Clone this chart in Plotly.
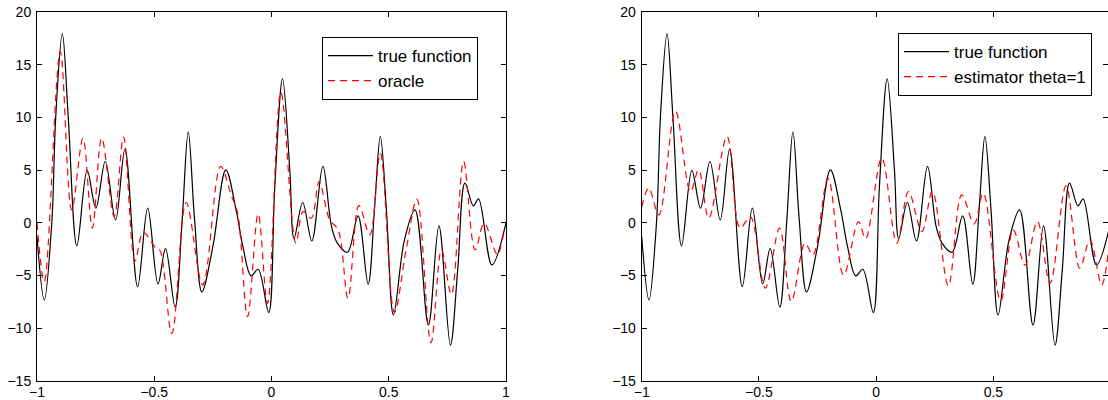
import plotly.graph_objects as go

# ---- data ----
true_x = [-1.0, -0.969, -0.937, -0.920, -0.892, -0.867, -0.830, -0.786, -0.749, -0.709, -0.665, -0.625,
          -0.571, -0.528, -0.484, -0.452, -0.411, -0.381, -0.355, -0.328, -0.297, -0.250, -0.195, -0.151,
          -0.122, -0.087, -0.057, -0.012, 0.014, 0.047, 0.078, 0.096, 0.133, 0.172, 0.219, 0.256, 0.281,
          0.324, 0.369, 0.412, 0.440, 0.464, 0.490, 0.520, 0.567, 0.612, 0.669, 0.714, 0.763, 0.794,
          0.825, 0.861, 0.883, 0.940, 1.0]
true_y = [-1.3, -7.31, 0.0, 10.1, 17.95, 10.1, -2.18, 4.97, 1.39, 5.82, 0.28, 7.0,
          -6.05, 1.39, -5.8, -2.44, -8.0, 0.28, 8.64, 0.28, -6.55, -2.25, 5.03, 1.23,
          -2.25, -5.03, -4.40, -8.5, 3.45, 13.65, 5.03, -1.49, 1.93, -1.71, 5.35, -0.35, -1.93,
          -2.79, 0.66, -5.82, 1.55, 8.2, 1.23, -8.74, -1.61, 1.23, -9.69, -0.28, -11.59, -4.46,
          3.77, 1.61, 2.28, -3.99, 0.0]

oracle_x = [-1.0, -0.969, -0.901, -0.852, -0.804, -0.764, -0.724, -0.671, -0.631, -0.582, -0.547,
            -0.490, -0.476, -0.425, -0.364, -0.293, -0.217, -0.170, -0.145, -0.102, -0.057, -0.017,
            0.040, 0.104, 0.135, 0.170, 0.203, 0.248, 0.284, 0.326, 0.373, 0.419, 0.464, 0.524,
            0.574, 0.620, 0.680, 0.725, 0.767, 0.819, 0.868, 0.907, 0.964, 0.993, 1.0]
oracle_y = [0.0, -5.57, 16.27, 1.23, 8.04, -0.5, 8.04, 0.6, 8.14, -3.6, -0.9,
            -2.5, -2.6, -10.5, 1.93, -5.89, 5.35, 2.5, 1.0, -8.9, 0.85, -7.63,
            12.38, -1.93, 1.07, 0.44, 3.92, 0.28, -0.67, -7.15, 1.65, -1.14, 6.62, -8.5,
            -2.56, 2.25, -11.37, -2.56, -6.8, 5.82, -2.56, -0.03, -3.04, -0.95, -1.2]

est_x = [-1.0, -0.970, -0.927, -0.856, -0.792, -0.757, -0.714, -0.636, -0.580, -0.537, -0.473,
         -0.412, -0.362, -0.303, -0.270, -0.205, -0.139, -0.075, -0.045, 0.024, 0.088, 0.138,
         0.195, 0.240, 0.308, 0.365, 0.418, 0.457, 0.531, 0.585, 0.635, 0.688, 0.742, 0.810,
         0.869, 0.912, 0.962, 0.989]
est_y = [1.5, 3.3, 0.76, 10.57, 2.97, 5.03, 0.44, 8.2, -0.5, 0.6, -6.2,
         -0.5, -7.47, -1.93, -3.04, 4.2, -4.94, 0.12, -1.5, 6.14, -1.93, 2.97,
         -0.82, 3.0, -5.98, 2.66, -0.1, 2.82, -7.4, -0.66, -4.0, 0.12, -5.73, 3.5,
         -4.3, -1.61, -5.89, -3.0]

x_ticks = [-1, -0.5, 0, 0.5, 1]
x_tick_text = ["\u22121", "\u22120.5", "0", "0.5", "1"]
y_ticks = [-15, -10, -5, 0, 5, 10, 15, 20]
y_tick_text = ["\u221215", "\u221210", "\u22125", "0", "5", "10", "15", "20"]

W, H = 1108, 400
FONT = "Liberation Sans, Arial, Helvetica, sans-serif"

fig = go.Figure()
fig.add_trace(go.Scatter(x=true_x, y=true_y, mode="lines", name="true function",
                         line=dict(color="black", width=1.2, shape="spline", smoothing=1.0),
                         xaxis="x", yaxis="y", legend="legend"))
fig.add_trace(go.Scatter(x=oracle_x, y=oracle_y, mode="lines", name="oracle",
                         line=dict(color="red", width=1.2, dash="7px,5px", shape="spline", smoothing=1.0),
                         xaxis="x", yaxis="y", legend="legend"))
fig.add_trace(go.Scatter(x=true_x, y=true_y, mode="lines", name="true function",
                         line=dict(color="black", width=1.2, shape="spline", smoothing=1.0),
                         xaxis="x2", yaxis="y2", legend="legend2"))
fig.add_trace(go.Scatter(x=est_x, y=est_y, mode="lines", name="estimator theta=1",
                         line=dict(color="red", width=1.2, dash="7px,5px", shape="spline", smoothing=1.0),
                         xaxis="x2", yaxis="y2", legend="legend2"))

ydom = [1 - 381 / H, 1 - 12 / H]
axis_common = dict(showgrid=False, zeroline=False, showline=True, linecolor="black", linewidth=1,
                   ticks="inside", ticklen=5, tickcolor="black", mirror="allticks", automargin=False,
                   tickfont=dict(family=FONT, size=14, color="black"))

fig.update_layout(
    width=W, height=H,
    margin=dict(l=0, r=0, t=0, b=0),
    paper_bgcolor="white", plot_bgcolor="white",
    showlegend=True,
    xaxis=dict(domain=[37 / W, 506 / W], range=[-1, 1], tickvals=x_ticks, ticktext=x_tick_text,
               anchor="y", ticklabelstandoff=-2, **axis_common),
    yaxis=dict(domain=ydom, range=[-15, 20], tickvals=y_ticks, ticktext=y_tick_text,
               anchor="x", ticklabelstandoff=2, **axis_common),
    xaxis2=dict(domain=[641.7 / W, 1.0], range=[-1, 0.989], tickvals=x_ticks, ticktext=x_tick_text,
                anchor="y2", ticklabelstandoff=-2, **axis_common),
    yaxis2=dict(domain=ydom, range=[-15, 20], tickvals=y_ticks, ticktext=y_tick_text,
                anchor="x2", ticklabelstandoff=2, **axis_common),
    legend=dict(x=322 / W, y=1 - 37 / H, xanchor="left", yanchor="top", itemwidth=45,
                bgcolor="white", bordercolor="black", borderwidth=1,
                font=dict(family=FONT, size=17, color="black"), tracegroupgap=0),
    legend2=dict(x=898 / W, y=1 - 33 / H, xanchor="left", yanchor="top", itemwidth=45,
                 bgcolor="white", bordercolor="black", borderwidth=1,
                 font=dict(family=FONT, size=17, color="black"), tracegroupgap=0),
)

fig.write_html("out.html")
